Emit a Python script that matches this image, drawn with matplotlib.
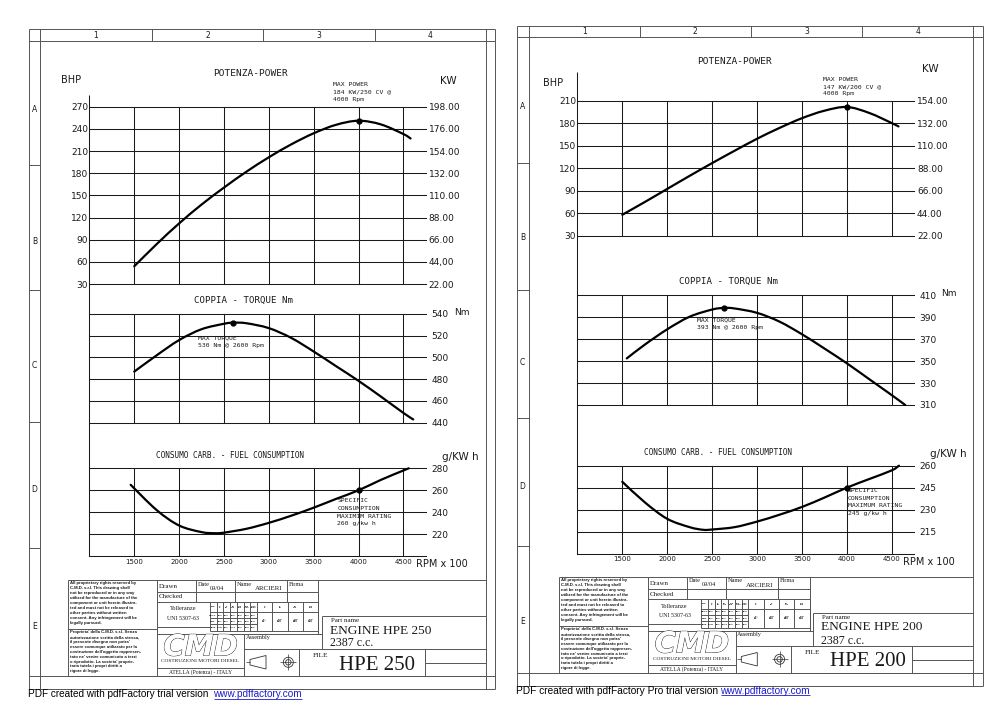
import matplotlib
matplotlib.use("Agg")
import matplotlib.pyplot as plt
from matplotlib import font_manager
import matplotlib.patheffects as pe
from matplotlib.patches import Circle, Polygon, PathPatch
from matplotlib.path import Path

# ---------------------------------------------------------------- data
rpm_ticks = [1500, 2000, 2500, 3000, 3500, 4000, 4500]
rpm_labels = ["1500", "2000", "2500", "3000", "3500", "4000", "4500"]

# HPE 250 (left sheet)
hpe250_power_rpm = [1500, 1750, 2000, 2250, 2500, 2750, 3000, 3250, 3500, 3750, 4000, 4250, 4500, 4580]
hpe250_power_bhp = [54, 84, 112, 137.5, 160.5, 182, 201.5, 219, 234, 245.5, 251, 246, 233, 227]
hpe250_torque_rpm = [1500, 1750, 2000, 2250, 2500, 2600, 2750, 3000, 3250, 3500, 3750, 4000, 4250, 4500, 4610]
hpe250_torque_nm = [487, 502, 516, 526, 531, 532, 531.5, 527, 518, 505.5, 492, 478.5, 464, 449, 443]
hpe250_fuel_rpm = [1460, 1750, 2000, 2250, 2400, 2500, 2750, 3000, 3250, 3500, 3750, 4000, 4250, 4500, 4560]
hpe250_fuel_g = [265, 242, 228, 222, 221, 221.5, 225, 230.4, 236.9, 244.2, 252.2, 260, 269.5, 278, 280]
hpe250_marks = [(4000, 251), (2600, 532), (4000, 260)]
hpe250_bhp_ticks = [30, 60, 90, 120, 150, 180, 210, 240, 270]
hpe250_kw_labels = ["22.00", "44,00", "66.00", "88.00", "110.00", "132.00", "154.00", "176.00", "198.00"]
hpe250_nm_ticks = [440, 460, 480, 500, 520, 540]
hpe250_fuel_ticks = [220, 240, 260, 280]

# HPE 200 (right sheet)
hpe200_power_rpm = [1500, 1750, 2000, 2250, 2500, 2750, 3000, 3250, 3500, 3750, 4000, 4250, 4500, 4575]
hpe200_power_bhp = [58, 75, 92.5, 110, 127, 143.5, 159.5, 174, 187, 197, 202, 194, 180.5, 176]
hpe200_torque_rpm = [1550, 1750, 2000, 2250, 2500, 2630, 2750, 3000, 3250, 3500, 3750, 4000, 4250, 4500, 4650]
hpe200_torque_nm = [352.5, 365, 379, 390.5, 397, 398.5, 398, 394, 386, 374.5, 361.5, 348, 333.5, 319, 310]
hpe200_fuel_rpm = [1500, 1750, 2000, 2250, 2400, 2500, 2750, 3000, 3250, 3500, 3750, 4000, 4250, 4500, 4580]
hpe200_fuel_g = [249, 235, 223.7, 218, 216.2, 216.4, 218, 221.8, 226.5, 231.8, 238.2, 245, 250.9, 256.8, 260]
hpe200_marks = [(4000, 202), (2630, 398.5), (4000, 245)]
hpe200_bhp_ticks = [30, 60, 90, 120, 150, 180, 210]
hpe200_kw_labels = ["22.00", "44.00", "66.00", "88.00", "110.00", "132.00", "154.00"]
hpe200_nm_ticks = [310, 330, 350, 370, 390, 410]
hpe200_fuel_ticks = [215, 230, 245, 260]

# ---------------------------------------------------------------- fonts
names = {f.name for f in font_manager.fontManager.ttflist}
NARROW = "Liberation Sans Narrow" in names
CAD = "Liberation Sans Narrow" if NARROW else "DejaVu Sans"
TICK_FS = 8.2 if NARROW else 6.5
XT_FS = 6.2 if NARROW else 5.0
MONO = "DejaVu Sans Mono"
SERIF = "Liberation Serif"
SANS = "Liberation Sans"
plt.rcParams["font.family"] = [CAD, "DejaVu Sans"]

W, H = 1000, 707
fig = plt.figure(figsize=(W / 100, H / 100), dpi=100)
fig.patch.set_facecolor("white")
bg = fig.add_axes([0, 0, 1, 1], zorder=0)
bg.set_xlim(0, W)
bg.set_ylim(H, 0)
bg.axis("off")

FRAME = "#555555"
GRID = "#1a1a1a"
TXT = "#1a1a1a"


def L(x0, y0, x1, y1, lw=0.7, c=FRAME):
    bg.plot([x0, x1], [y0, y1], color=c, lw=lw, solid_capstyle="butt")


def T(x, y, s, **kw):
    kw.setdefault("color", TXT)
    kw.setdefault("va", "center")
    bg.text(x, y, s, **kw)


def smooth_curve(ax, xs, ys, lw=1.6):
    """Draw the read points as a smooth Catmull-Rom (cubic Bezier) path in data space."""
    pts = list(zip(xs, ys))
    n = len(pts)
    verts = [pts[0]]
    codes = [Path.MOVETO]
    for i in range(n - 1):
        p0 = pts[i - 1] if i > 0 else pts[i]
        p1 = pts[i]
        p2 = pts[i + 1]
        p3 = pts[i + 2] if i + 2 < n else pts[i + 1]
        c1 = (p1[0] + (p2[0] - p0[0]) / 6.0, p1[1] + (p2[1] - p0[1]) / 6.0)
        c2 = (p2[0] - (p3[0] - p1[0]) / 6.0, p2[1] - (p3[1] - p1[1]) / 6.0)
        verts += [c1, c2, p2]
        codes += [Path.CURVE4] * 3
    patch = PathPatch(Path(verts, codes), fill=False, lw=lw, ec="black",
                      capstyle="round", joinstyle="round", clip_on=False, zorder=3)
    ax.add_patch(patch)


# ---------------------------------------------------------------- sheet frames
def sheet_frame(outer, inner, row_seps, row_ys, label_x):
    ox0, oy0, ox1, oy1 = outer
    ix0, iy0, ix1, iy1 = inner
    L(ox0, oy0, ox1, oy0); L(ox0, oy1, ox1, oy1)
    L(ox0, oy0, ox0, oy1); L(ox1, oy0, ox1, oy1)
    L(ix0, oy0, ix0, oy1); L(ix1, oy0, ix1, oy1)
    L(ox0, iy0, ox1, iy0); L(ox0, iy1, ox1, iy1)
    w = (ix1 - ix0) / 4
    for k in range(1, 4):
        L(ix0 + k * w, oy0, ix0 + k * w, iy0)
    for k in range(4):
        T(ix0 + (k + 0.5) * w, (oy0 + iy0) / 2 + 0.5, str(k + 1), ha="center",
          fontsize=5.5, family=CAD)
    for y in row_seps:
        L(ox0, y, ix0, y)
    for lab, y in zip("ABCDE", row_ys):
        T(label_x, y, lab, ha="center", fontsize=5.5, family=CAD)


sheet_frame((28.6, 29.3, 494.5, 689.3), (40.3, 40.6, 486, 676),
            [165, 290, 422, 548], [110, 241.7, 366, 490, 626.7], 34.4)
sheet_frame((516.7, 26, 983, 686), (528.5, 36.7, 973.3, 673.3),
            [162.7, 290, 418.3, 546], [106.7, 237, 362.7, 486.7, 621.7], 522.6)


# ---------------------------------------------------------------- charts
def add_panel(xl, xr, ytop, ybot, ylim, yticks):
    ax = fig.add_axes([xl / W, 1 - ybot / H, (xr - xl) / W, (ybot - ytop) / H], zorder=2)
    ax.set_facecolor("none")
    ax.set_xlim(1000, 4750)
    ax.set_ylim(*ylim)
    for s in ax.spines.values():
        s.set_visible(False)
    ax.set_xticks(rpm_ticks)
    ax.set_yticks(yticks)
    ax.grid(True, color=GRID, lw=0.75)
    ax.set_axisbelow(True)
    for gl in ax.get_xgridlines() + ax.get_ygridlines():
        gl.set_clip_on(False)
    ax.tick_params(length=0, labelsize=TICK_FS, colors=TXT,
                   labelbottom=False, labelleft=False)
    return ax


def chart(cfg):
    xl, xr = cfg["x"]
    # power
    ax = add_panel(xl, xr, *cfg["py"], cfg["plim"], cfg["bhp_ticks"])
    ax.tick_params(labelleft=True, pad=1)
    ax.set_yticks(cfg["bhp_ticks"], labels=[str(v) for v in cfg["bhp_ticks"]])
    smooth_curve(ax, *cfg["power"])
    ax.plot(*cfg["marks"][0], "o", color="black", ms=3.5, clip_on=False, zorder=4)
    ax2 = ax.twinx()
    ax2.set_zorder(2)
    ax2.set_ylim(*cfg["plim"])
    ax2.set_yticks(cfg["bhp_ticks"], labels=cfg["kw_labels"])
    ax2.tick_params(length=0, pad=2, labelsize=TICK_FS, colors=TXT)
    for s in ax2.spines.values():
        s.set_visible(False)
    # torque
    ax = add_panel(xl, xr, *cfg["ty"], cfg["tlim"], cfg["nm_ticks"])
    ax.yaxis.tick_right()
    ax.tick_params(labelright=True, labelleft=False, length=0, pad=4)
    smooth_curve(ax, *cfg["torque"])
    ax.plot(*cfg["marks"][1], "o", color="black", ms=3.5, clip_on=False, zorder=4)
    # fuel
    ax = add_panel(xl, xr, *cfg["fy"], cfg["flim"], cfg["fuel_ticks"])
    ax.yaxis.tick_right()
    ax.tick_params(labelright=True, labelleft=False, length=0, pad=4)
    ax.spines["bottom"].set_visible(True)
    ax.spines["bottom"].set_linewidth(0.75)
    ax.spines["bottom"].set_color(GRID)
    ax.set_xticks(rpm_ticks, labels=rpm_labels)
    ax.tick_params(axis="x", labelbottom=True, labelsize=XT_FS, pad=2)
    smooth_curve(ax, *cfg["fuel"])
    ax.plot(*cfg["marks"][2], "o", color="black", ms=3.5, clip_on=False, zorder=4)
    # common left axis line
    L(xl, cfg["axis_top"], xl, cfg["fy"][1], lw=0.75, c=GRID)
    # texts
    t = cfg["txt"]
    T(*t["bhp"], "BHP", ha="center", fontsize=7, family=CAD)
    T(*t["kw"], "KW", ha="center", fontsize=7.5, family=CAD)
    T(*t["ptitle"], "POTENZA-POWER", ha="center", fontsize=6.8, family=MONO)
    for y, s in zip(t["mp_y"], t["mp"]):
        T(t["mp_x"], y, s, ha="left", fontsize=4.6, family=MONO)
    T(*t["ttitle"], "COPPIA - TORQUE Nm", ha="center", fontsize=6.6, family=MONO)
    T(*t["nm"], "Nm", ha="center", fontsize=6.5, family=CAD)
    for y, s in zip(t["mt_y"], t["mt"]):
        T(t["mt_x"], y, s, ha="left", fontsize=4.6, family=MONO)
    T(*t["ftitle"], "CONSUMO CARB. - FUEL CONSUMPTION", ha="center", fontsize=5.6, family=MONO)
    T(*t["gkw"], "g/KW h", ha="center", fontsize=7.5, family=CAD)
    for y, s in zip(t["sc_y"], t["sc"]):
        T(t["sc_x"], y, s, ha="left", fontsize=4.6, family=MONO)
    T(*t["rpm"], "RPM x 100", ha="center", fontsize=7, family=CAD)


chart(dict(
    x=(89.4, 425.8), axis_top=95,
    py=(106.7, 284), plim=(30, 270), bhp_ticks=hpe250_bhp_ticks, kw_labels=hpe250_kw_labels,
    ty=(314, 422.7), tlim=(440, 540), nm_ticks=hpe250_nm_ticks,
    fy=(468.3, 556.3), flim=(200, 280), fuel_ticks=hpe250_fuel_ticks,
    power=(hpe250_power_rpm, hpe250_power_bhp),
    torque=(hpe250_torque_rpm, hpe250_torque_nm),
    fuel=(hpe250_fuel_rpm, hpe250_fuel_g),
    marks=hpe250_marks,
    txt=dict(bhp=(70.8, 80), kw=(448, 81), ptitle=(250, 74),
             mp_x=332.7, mp_y=[84.3, 92, 99.7], mp=["MAX POWER", "184 KW/250 CV @", "4000 Rpm"],
             ttitle=(243.3, 300), nm=(461.7, 312.3),
             mt_x=197.7, mt_y=[338.3, 346], mt=["MAX TORQUE", "530 Nm @ 2600 Rpm"],
             ftitle=(230, 456), gkw=(460.7, 456.7),
             sc_x=337.3, sc_y=[501, 508.3, 516, 523.5],
             sc=["SPECIFIC", "CONSUMPTION", "MAXIMIM RATING", "260 g/kw h"],
             rpm=(441.5, 564.3)),
))

chart(dict(
    x=(577.4, 914.2), axis_top=71.7,
    py=(101, 235.7), plim=(30, 210), bhp_ticks=hpe200_bhp_ticks, kw_labels=hpe200_kw_labels,
    ty=(295.3, 405), tlim=(310, 410), nm_ticks=hpe200_nm_ticks,
    fy=(465.7, 553.5), flim=(200, 260), fuel_ticks=hpe200_fuel_ticks,
    power=(hpe200_power_rpm, hpe200_power_bhp),
    torque=(hpe200_torque_rpm, hpe200_torque_nm),
    fuel=(hpe200_fuel_rpm, hpe200_fuel_g),
    marks=hpe200_marks,
    txt=dict(bhp=(553.3, 82.7), kw=(930, 69.3), ptitle=(735, 61.7),
             mp_x=823.3, mp_y=[79.3, 86.7, 93.7], mp=["MAX POWER", "147 KW/200 CV @", "4000 Rpm"],
             ttitle=(728.3, 281.7), nm=(949.3, 293.3),
             mt_x=696.7, mt_y=[320.3, 328], mt=["MAX TORQUE", "393 Nm @ 2600 Rpm"],
             ftitle=(718.3, 452.7), gkw=(948.3, 454.3),
             sc_x=847.7, sc_y=[490.7, 498.3, 505.7, 513.3],
             sc=["SPECIFIC", "CONSUMPTION", "MAXIMUM RATING", "245 g/kw h"],
             rpm=(929.3, 561.7)),
))

# ---------------------------------------------------------------- title blocks
legal_en = ["All proprietary rights reserved by", "C.M.D. s.r.l. This drawing shall",
            "not be reproduced or in any way", "utilized for the manufacture of the",
            "component or unit herein illustra-", "ted and must not be released to",
            "other parties without written", "consent. Any infringement will be",
            "legally pursued."]
legal_it = ["Proprieta' della C.M.D. s.r.l. Senza", "autorizzazione scritta della stessa,",
            "il presente disegno non potra'", "essere comunque utilizzato per la",
            "costruzione dell'oggetto rappresen-", "tato ne' venire comunicato a terzi",
            "o riprodotto. La societa' proprie-", "taria tutela i propri diritti a",
            "rigore di legge."]
tol_rows = ["DIM.", "GROS.", "MED.", "FINE"]
tol_heads = ["0\n6", "6\n30", "30\n120", "120\n315", "315\n1000", "1000\n2000",
             "0\n6", "6\n30", "30\n120", "120\n315"]
tol_vals = [["±0.2", "±0.3", "±0.5", "±1.2", "±2.0", "±3.0"],
            ["±0.1", "±0.2", "±0.3", "±0.5", "±0.8", "±1.2"],
            ["±0.05", "±0.1", "±0.15", "±0.2", "±0.3", "±0.5"]]
tol_ang = ["±1°", "±30'", "±20'", "±10'"]


def title_block(ox, oy, xr, part, filetxt):
    X = lambda x: x + ox
    Y = lambda y: y + oy
    lw = 0.7

    def hx(y, x0, x1):
        L(X(x0), Y(y), X(x1), Y(y), lw=lw)

    def v(x, y0, y1):
        L(X(x), Y(y0), X(x), Y(y1), lw=lw)

    L(X(68), Y(580), xr, Y(580), lw=lw)
    L(X(68), Y(676), xr, Y(676), lw=lw)
    v(68, 580, 676)
    v(156.7, 580, 676)
    hx(629, 68, 156.7)
    hx(592.3, 156.7, 318.3)
    hx(601.7, 156.7, 318.3)
    for x in (195.7, 235, 286.7):
        v(x, 580, 601.7)
    v(318.3, 580, 634.3)
    v(321.7, 615.7, 649.3)
    L(X(321.7), Y(615.7), xr, Y(615.7), lw=lw)
    L(X(244.3), Y(649.3), xr, Y(649.3), lw=lw)
    hx(634.3, 156.7, 321.7)
    hx(626.7, 156.7, 210)
    v(244.3, 634.3, 676)
    hx(667.7, 156.7, 244.3)
    v(299.3, 649.3, 676)
    L(xr - 61, Y(649.3), xr - 61, Y(676), lw=lw)
    L(xr - 61, Y(663.3), xr, Y(663.3), lw=lw)
    # tolerance table
    cols = [210, 216.5, 223.25, 230, 236.75, 243.5, 250.25, 257, 272.3, 287.6, 302.9, 318.3]
    rows = [601.7, 611.7, 618.3, 624.3, 631]
    for x in cols:
        v(x, 601.7, 631)
    hx(611.7, 210, 318.3)
    hx(618.3, 210, 257)
    hx(624.3, 210, 257)
    hx(631, 210, 318.3)
    tfs = 1.7
    for i, lab in enumerate(tol_rows):
        T(X((cols[0] + cols[1]) / 2), Y((rows[i] + rows[i + 1]) / 2), lab, ha="center",
          fontsize=tfs, family=SANS, weight="bold")
    for j, hd in enumerate(tol_heads):
        T(X((cols[j + 1] + cols[j + 2]) / 2), Y((rows[0] + rows[1]) / 2), hd, ha="center",
          fontsize=tfs, family=SANS, weight="bold", linespacing=0.9)
    for i, rv in enumerate(tol_vals):
        for j, s in enumerate(rv):
            T(X((cols[j + 1] + cols[j + 2]) / 2), Y((rows[i + 1] + rows[i + 2]) / 2), s,
              ha="center", fontsize=tfs, family=SANS, weight="bold")
    for j, s in enumerate(tol_ang):
        T(X((cols[j + 7] + cols[j + 8]) / 2), Y((rows[1] + rows[4]) / 2), s, ha="center",
          fontsize=2.2, family=SANS, weight="bold")
    # legal notes
    for i, s in enumerate(legal_en):
        T(X(70), Y(583.2 + i * 4.95), s, ha="left", fontsize=3.1, family=SANS, weight="bold")
    for i, s in enumerate(legal_it):
        T(X(70), Y(632.4 + i * 4.85), s, ha="left", fontsize=3.1, family=SANS, weight="bold")
    # labels
    T(X(158.5), Y(586.5), "Drawn", ha="left", fontsize=5, family=SERIF)
    T(X(158.5), Y(597), "Checked", ha="left", fontsize=5, family=SERIF)
    T(X(197.5), Y(584), "Date", ha="left", fontsize=4.5, family=SERIF)
    T(X(210), Y(588), "09/04", ha="left", fontsize=4.5, family=SERIF)
    T(X(236.5), Y(584), "Name", ha="left", fontsize=4.5, family=SERIF)
    T(X(255), Y(588.5), "ARCIERI", ha="left", fontsize=5, family=SERIF)
    T(X(288.5), Y(584), "Firma", ha="left", fontsize=4.5, family=SERIF)
    T(X(183.3), Y(609), "Tolleranze", ha="center", fontsize=4.5, family=SERIF)
    T(X(183.3), Y(618.5), "UNI 5307-63", ha="center", fontsize=4.3, family=SERIF)
    T(X(200.5), Y(647.5), "CMD", ha="center", fontsize=21, family="DejaVu Sans",
      weight="bold", style="italic", color="white",
      path_effects=[pe.withStroke(linewidth=0.6, foreground="#111111")])
    T(X(200.5), Y(661.5), "COSTRUZIONI MOTORI DIESEL", ha="center", fontsize=3.9, family=SERIF)
    T(X(200.5), Y(672), "ATELLA (Potenza) - ITALY", ha="center", fontsize=4, family=SERIF)
    T(X(245.5), Y(637.5), "Assembly", ha="left", fontsize=4.5, family=SERIF)
    T(X(331), Y(620.3), "Part name", ha="left", fontsize=5, family=SERIF)
    T(X(330), Y(630.5), "ENGINE " + part, ha="left", fontsize=9.6, family=SERIF)
    T(X(330), Y(643.5), "2387 c.c.", ha="left", fontsize=8.6, family=SERIF)
    T(X(313), Y(655.5), "FILE", ha="left", fontsize=5.3, family=SERIF)
    T(X(376.7), Y(665), filetxt, ha="center", fontsize=15, family=SERIF)
    # projection symbol
    bg.add_patch(Polygon([[X(250), Y(659.5)], [X(266), Y(655.5)], [X(266), Y(669)],
                          [X(250), Y(665)]], closed=True, fill=False, lw=0.6, ec="#333333"))
    L(X(246), Y(662.3), X(250), Y(662.3), lw=0.5, c="#333333")
    cx, cy = X(288.3), Y(662.3)
    bg.add_patch(Circle((cx, cy), 5, fill=False, lw=0.6, ec="#333333"))
    bg.add_patch(Circle((cx, cy), 2.7, fill=False, lw=0.6, ec="#333333"))
    L(cx - 8, cy, cx + 8, cy, lw=0.5, c="#333333")
    L(cx, cy - 8, cx, cy + 8, lw=0.5, c="#333333")


title_block(0, 0, 486, "HPE 250", "HPE 250")
title_block(491.3, -3.0, 973.3, "HPE 200", "HPE 200")

# ---------------------------------------------------------------- pdf footers
fig.canvas.draw()
renderer = fig.canvas.get_renderer()


def footer(x, y, pre, url_x):
    t = bg.text(x, y, pre, fontsize=10, family=SANS, va="center", ha="left", color="black")
    bb = t.get_window_extent(renderer)
    fs = 10 * (url_x - x) / max(bb.width, 1)
    t.set_fontsize(fs)
    u = bg.text(url_x, y, "www.pdffactory.com", fontsize=fs, family=SANS, va="center",
                ha="left", color="#1a1acc")
    ub = u.get_window_extent(renderer)
    L(url_x, y + 4.6, url_x + ub.width, y + 4.6, lw=0.6, c="#1a1acc")


footer(28, 694, "PDF created with pdfFactory trial version ", 213.5)
footer(516, 690.5, "PDF created with pdfFactory Pro trial version ", 720.5)

fig.savefig("out.png", dpi=100, facecolor="white")
